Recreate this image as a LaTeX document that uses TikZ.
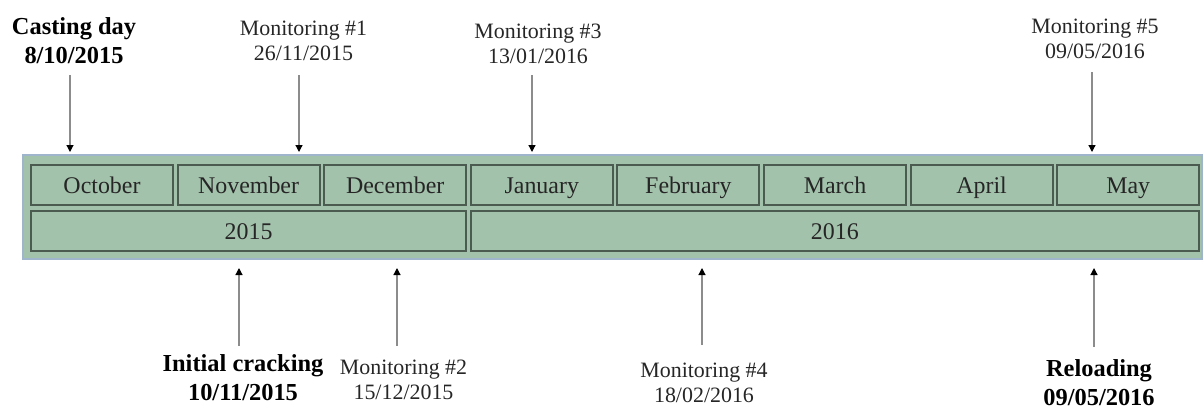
\documentclass[tikz,border=0pt]{standalone}
\usepackage{fontspec}
\setmainfont{Liberation Serif}
\usetikzlibrary{arrows.meta}
\definecolor{cellfill}{HTML}{A3C2AB}
\definecolor{celledge}{HTML}{4B5B4F}
\definecolor{frameedge}{HTML}{9FB5CB}
\definecolor{inktext}{HTML}{262626}
\definecolor{stem}{HTML}{8C8C8C}
\begin{document}
\begin{tikzpicture}[x=1bp,y=-1bp,
  cell/.style={draw=celledge,line width=2bp,fill=cellfill,inner sep=0,
    minimum height=40bp,text=inktext,text height=18bp,text depth=0bp,
    font=\fontsize{24}{27}\selectfont},
  month/.style={cell,minimum width=142bp},
  regular/.style={align=center,inner sep=0,anchor=base,text=inktext,
    font=\fontsize{22}{25}\selectfont},
  strong/.style={align=center,inner sep=0,anchor=base,text=black,
    font=\fontsize{24.5}{28.5}\selectfont\bfseries},
  pointer/.style={draw=stem,line width=1.2bp,
    -{Triangle[length=7bp,width=7bp,color=black]}}]
\useasboundingbox (0,0) rectangle (1203,409);

% outer band holding the calendar
\node[draw=frameedge,line width=2.5bp,fill=cellfill,inner sep=0,
  minimum width=1179bp,minimum height=104bp] (band) at (612.5,207) {};

% month cells
\foreach \m [count=\i from 0] in {October,November,December,January,February,March,April,May}
  \node[month] (m\i) at ({102+146.6*\i},184.5) {\m};

% year cells
\node[cell,minimum width=435.2bp] (y2015) at (248.6,230.5) {2015};
\node[cell,minimum width=728.2bp] (y2016) at (834.9,230.5) {2016};

% events above the band (anchored on the baseline of the date line)
\node[strong]  (cast) at (74,63)    {Casting day\\8/10/2015};
\node[regular] (mon1) at (303.5,60) {Monitoring \#1\\26/11/2015};
\node[regular] (mon3) at (538,63)   {Monitoring \#3\\13/01/2016};
\node[regular] (mon5) at (1095,58)  {Monitoring \#5\\09/05/2016};

% events below the band
\node[strong]  (crack) at (243,400)  {Initial cracking\\10/11/2015};
\node[regular] (mon2)  at (403.5,399){Monitoring \#2\\15/12/2015};
\node[regular] (mon4)  at (704,402)  {Monitoring \#4\\18/02/2016};
\node[strong]  (load)  at (1099,405) {Reloading\\09/05/2016};

% arrow ends
\coordinate (castA) at (70,75);   \coordinate (castB) at (70,152);
\coordinate (mon1A) at (299,75);  \coordinate (mon1B) at (299,152);
\coordinate (mon3A) at (532,75);  \coordinate (mon3B) at (532,152);
\coordinate (mon5A) at (1092,72); \coordinate (mon5B) at (1092,152);
\coordinate (crackA) at (239,346); \coordinate (crackB) at (239,268);
\coordinate (mon2A) at (397,346);  \coordinate (mon2B) at (397,268);
\coordinate (mon4A) at (702,345);  \coordinate (mon4B) at (702,268);
\coordinate (loadA) at (1094,347); \coordinate (loadB) at (1094,268);

\foreach \e in {cast,mon1,mon3,mon5,crack,mon2,mon4,load}
  \draw[pointer] (\e A) -- (\e B);
\end{tikzpicture}
\end{document}
